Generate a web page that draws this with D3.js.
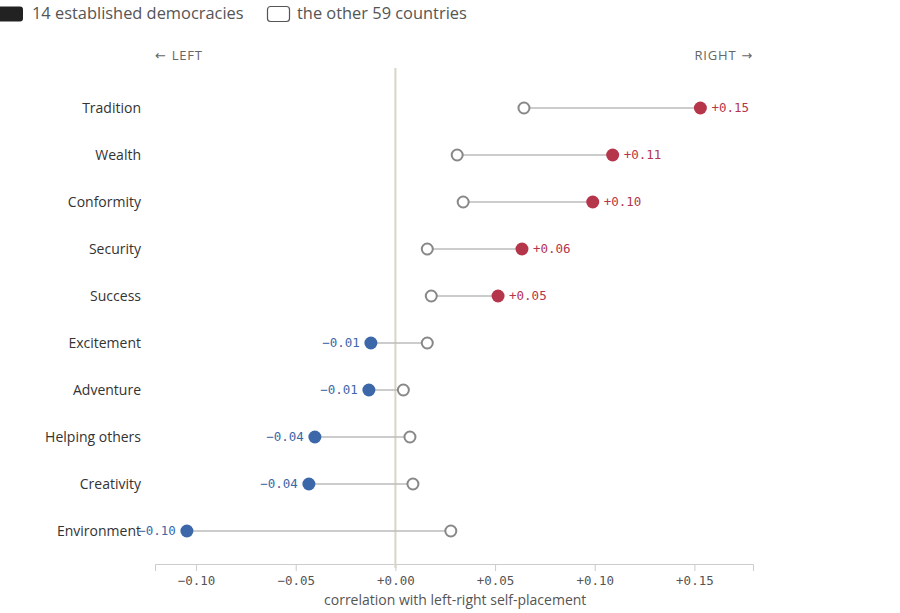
<!DOCTYPE html>
<html>
<head>
<meta charset="utf-8">
<script src="https://cdn.jsdelivr.net/npm/d3@7"></script>
<style>
  body { margin: 0; background: #fff; }
  text { font-family: "Open Sans", "Noto Sans", sans-serif; }
  .mono { font-family: "DejaVu Sans Mono", "Liberation Mono", monospace; }
  .arrow { font-family: "DejaVu Sans", sans-serif; }
</style>
</head>
<body>
<div id="chart"></div>
<script>
const values = ["Tradition", "Wealth", "Conformity", "Security", "Success",
  "Excitement", "Adventure", "Helping others", "Creativity", "Environment"];
const democracies = [0.153, 0.109, 0.099, 0.0635, 0.0515, -0.0123, -0.0133, -0.0404, -0.0434, -0.1046];
const otherCountries = [0.0645, 0.031, 0.034, 0.016, 0.018, 0.016, 0.004, 0.0073, 0.0088, 0.0278];
const xTicks = [-0.10, -0.05, 0, 0.05, 0.10, 0.15];

let width = 900,
  height = 613,
  margin = ({ top: 108, right: 147, bottom: 82, left: 155 });

const data = values.map((v, i) => ({ value: v, dem: democracies[i], other: otherCountries[i] }));

let x = d3.scaleLinear()
  .domain([-0.1206, 0.1794])
  .range([margin.left, width - margin.right]);

let y = d3.scalePoint()
  .domain(values)
  .range([margin.top, height - margin.bottom]);

const axisY = 564;
const fmt = d3.format("+.2f");
const red = "#b5364b", blue = "#3c67a8";

const svg = d3.select("#chart")
  .append("svg")
  .attr("width", width)
  .attr("height", height)
  .attr("viewBox", [0, 0, width, height]);

// legend
const legend = svg.append("g").attr("font-size", 16.4).attr("fill", "#555");
legend.append("rect")
  .attr("x", -3).attr("y", 6.5).attr("width", 26).attr("height", 15).attr("rx", 3)
  .attr("fill", "#222");
legend.append("text").attr("x", 32).attr("y", 19).text("14 established democracies");
legend.append("rect")
  .attr("x", 267.5).attr("y", 6.5).attr("width", 22).attr("height", 15).attr("rx", 3)
  .attr("fill", "#fff").attr("stroke", "#555").attr("stroke-width", 1.2);
legend.append("text").attr("x", 297).attr("y", 19).text("the other 59 countries");

// direction hints
const leftHint = svg.append("text")
  .attr("x", margin.left).attr("y", 60)
  .attr("font-size", 13).attr("letter-spacing", 0.8).attr("fill", "#666");
leftHint.append("tspan").attr("class", "arrow").text("← ");
leftHint.append("tspan").text("LEFT");

const rightHint = svg.append("text")
  .attr("x", width - margin.right).attr("y", 60)
  .attr("text-anchor", "end")
  .attr("font-size", 13).attr("letter-spacing", 0.8).attr("fill", "#666");
rightHint.append("tspan").text("RIGHT");
rightHint.append("tspan").attr("class", "arrow").text(" →");

// x axis
let xAxis = g => g
  .attr("transform", `translate(0,${axisY})`)
  .call(d3.axisBottom(x).tickValues(xTicks).tickFormat(fmt).tickSize(7).tickPadding(5))
  .call(g => g.select(".domain").attr("stroke", "#ccc"))
  .call(g => g.selectAll(".tick line").attr("stroke", "#ccc"))
  .call(g => g.selectAll(".tick text")
    .attr("class", "mono")
    .attr("font-size", 12.5)
    .attr("fill", "#555"));

svg.append("g").call(xAxis);

svg.append("text")
  .attr("x", x(0.03))
  .attr("y", 605)
  .attr("text-anchor", "middle")
  .attr("font-size", 14)
  .attr("fill", "#555")
  .text("correlation with left-right self-placement");

// zero line
svg.append("line")
  .attr("x1", x(0)).attr("x2", x(0))
  .attr("y1", 68).attr("y2", axisY + 4)
  .attr("stroke", "#d9d5c5")
  .attr("stroke-width", 2);

// category labels
svg.append("g")
  .selectAll("text")
  .data(data)
  .join("text")
  .attr("x", 141)
  .attr("y", d => y(d.value))
  .attr("dy", "0.35em")
  .attr("text-anchor", "end")
  .attr("font-size", 14)
  .attr("fill", "#333")
  .text(d => d.value);

const row = svg.append("g")
  .selectAll("g")
  .data(data)
  .join("g");

row.append("line")
  .attr("x1", d => x(d.dem))
  .attr("x2", d => x(d.other))
  .attr("y1", d => y(d.value))
  .attr("y2", d => y(d.value))
  .attr("stroke", "#bbb")
  .attr("stroke-width", 1.5);

row.append("circle")
  .attr("cx", d => x(d.other))
  .attr("cy", d => y(d.value))
  .attr("r", 5.5)
  .attr("fill", "#fff")
  .attr("stroke", "#888")
  .attr("stroke-width", 2);

row.append("circle")
  .attr("cx", d => x(d.dem))
  .attr("cy", d => y(d.value))
  .attr("r", 6.5)
  .attr("fill", d => d.dem > 0 ? red : blue);

row.append("text")
  .attr("class", "mono")
  .attr("x", d => x(d.dem) + (d.dem > 0 ? 11 : -11))
  .attr("y", d => y(d.value))
  .attr("dy", "0.35em")
  .attr("text-anchor", d => d.dem > 0 ? "start" : "end")
  .attr("font-size", 12.5)
  .attr("fill", d => d.dem > 0 ? red : blue)
  .text(d => fmt(d.dem));
</script>
</body>
</html>
